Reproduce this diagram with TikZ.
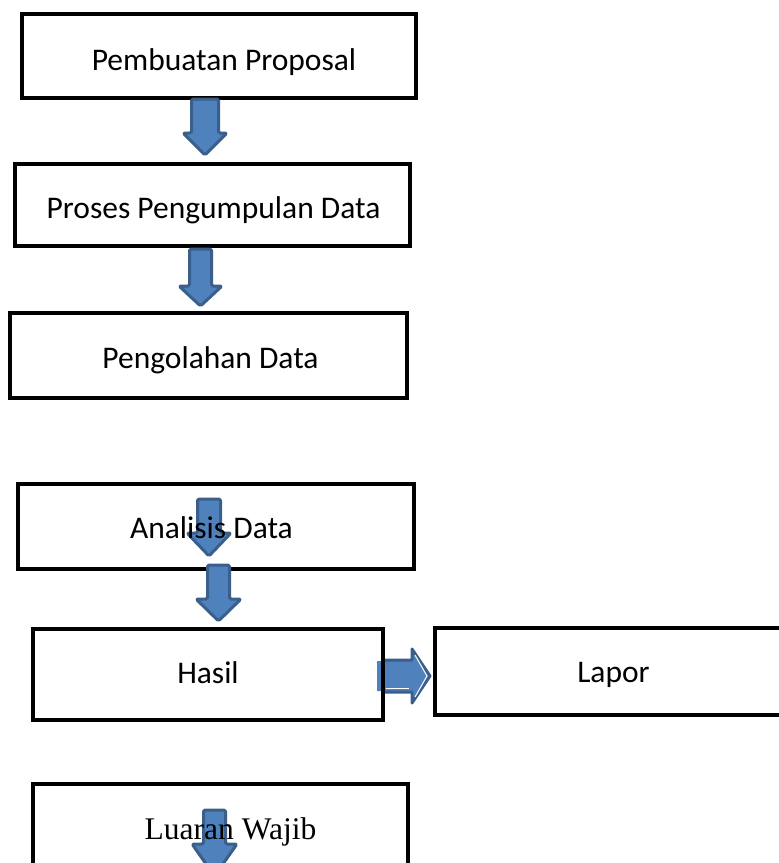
\documentclass[tikz,border=0pt]{standalone}
\usepackage{fontspec}
\setmainfont{Carlito}
\newfontfamily\timesf{Liberation Serif}
\definecolor{arrfill}{HTML}{4F81BD}
\definecolor{arredge}{HTML}{3A5F8B}
\tikzset{
  box/.style={draw=black, line width=4.5pt, inner sep=0pt, rectangle},
  lbl/.style={anchor=base, inner sep=0pt, font=\fontsize{31.5}{36}\selectfont},
  barrow/.style={fill=arrfill, draw=arredge, line width=3pt, line join=round, rounded corners=1.5pt},
}
% cx, top, headstart, tip, half shaft, half head
\newcommand\blockdown[6]{%
  \filldraw[barrow] ({#1-#5},#2) -- ({#1+#5},#2) -- ({#1+#5},#3) -- ({#1+#6},#3) -- (#1,#4) -- ({#1-#6},#3) -- ({#1-#5},#3) -- cycle;}
\begin{document}
\begin{tikzpicture}[x=1pt,y=-1pt]
\useasboundingbox (0,0) rectangle (779,863);
% right arrow (under Hasil border)
\coordinate (rs) at (377,676);
\coordinate (rt) at (430,676);
\fill[arrfill] (377,661) -- (412,661) -- (412,649) -- (430,676) -- (412,703) -- (412,691) -- (377,691) -- cycle;
\draw[arredge, line width=3pt, line join=round] (385,660) -- (412,660) -- (412,649) -- (430,676) -- (412,703) -- (412,692) -- (385,692);
\draw[white, line width=1pt] (386,688) -- (409,688);
\draw[white, line width=1pt] (415,655) -- (427,676) -- (415,697);
% boxes
\node[box, minimum width=394pt, minimum height=84pt] (b1) at (219,56) {};
\node[box, minimum width=395pt, minimum height=82pt] (b2) at (212.5,205) {};
\node[box, minimum width=397pt, minimum height=85pt] (b3) at (208.5,355.5) {};
\node[box, minimum width=396pt, minimum height=85pt] (b4) at (216,526.5) {};
\node[box, minimum width=350pt, minimum height=91pt] (b5) at (208,674.5) {};
\node[box, minimum width=365pt, minimum height=87pt] (b6) at (617.5,671.5) {};
\node[box, minimum width=375pt, minimum height=116pt] (b7) at (220.5,842) {};
% down arrows
\blockdown{205}{99}{133}{155}{13.5}{22}
\blockdown{200.5}{249}{286}{306}{11}{21.5}
\blockdown{209}{499}{533}{556}{11.5}{22}
\blockdown{218.5}{565}{599}{621}{11}{22.5}
\blockdown{214.5}{810}{844}{876}{11}{22.5}
% texts
\node[lbl] (t1) at (224,70) {Pembuatan Proposal};
\node[lbl] (t2) at (213.5,218) {Proses Pengumpulan Data};
\node[lbl] (t3) at (210.5,368) {Pengolahan Data};
\node[lbl] (t4) at (211.5,538) {Analisis Data};
\node[lbl] (t5) at (208,683) {Hasil};
\node[lbl] (t6) at (613.5,682) {Lapor};
\node[lbl, font=\timesf\fontsize{31.5}{36}\selectfont] (t7) at (230.5,839) {Luaran Wajib};
\end{tikzpicture}
\end{document}
